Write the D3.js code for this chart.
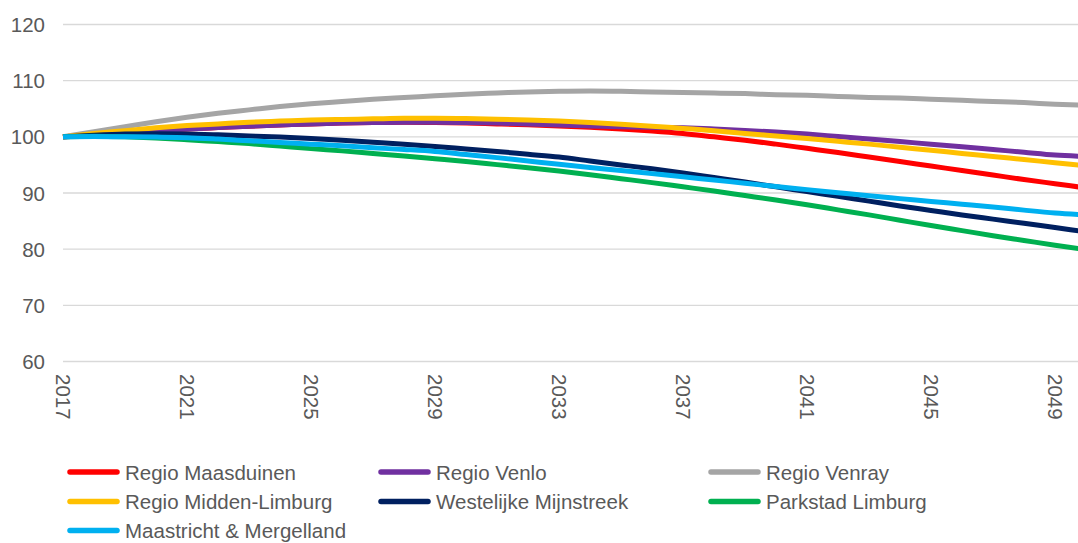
<!DOCTYPE html>
<html>
<head>
<meta charset="utf-8">
<script src="https://cdn.jsdelivr.net/npm/d3@7"></script>
<style>
  html, body { margin: 0; padding: 0; background: #fff; overflow: hidden; }
  svg { display: block; }
</style>
</head>
<body>
<svg id="chart" width="1078" height="543"></svg>
<script>
const years = d3.range(2017, 2051);
const xTickYears = [2017, 2021, 2025, 2029, 2033, 2037, 2041, 2045, 2049];
const yTicks = [60, 70, 80, 90, 100, 110, 120];

const seriesNames = ["Regio Maasduinen", "Regio Venlo", "Regio Venray", "Regio Midden-Limburg",
  "Westelijke Mijnstreek", "Parkstad Limburg", "Maastricht & Mergelland"];
const seriesColors = ["#FF0000", "#7030A0", "#A5A5A5", "#FFC000", "#002060", "#00B050", "#00B0F0"];

const maasduinen = [100.0, 100.4, 100.75, 101.1, 101.4, 101.65, 101.9, 102.1, 102.3, 102.45, 102.55, 102.6,
  102.55, 102.45, 102.3, 102.15, 101.95, 101.7, 101.4, 101.05, 100.6, 100.0, 99.4, 98.7, 97.95, 97.2, 96.4,
  95.6, 94.8, 94.0, 93.2, 92.4, 91.65, 90.9];
const venlo = [100.0, 100.4, 100.75, 101.1, 101.4, 101.65, 101.9, 102.1, 102.3, 102.45, 102.55, 102.6, 102.6,
  102.55, 102.45, 102.3, 102.1, 101.95, 101.8, 101.7, 101.6, 101.4, 101.15, 100.85, 100.5, 100.05, 99.6,
  99.15, 98.7, 98.25, 97.75, 97.25, 96.75, 96.5];
const venray = [100.0, 100.9, 101.8, 102.7, 103.5, 104.2, 104.8, 105.4, 105.9, 106.3, 106.7, 107.0, 107.3,
  107.6, 107.8, 108.0, 108.1, 108.15, 108.1, 108.0, 107.9, 107.8, 107.7, 107.5, 107.4, 107.2, 107.0, 106.9,
  106.7, 106.5, 106.3, 106.1, 105.8, 105.6];
const middenLimburg = [100.0, 100.6, 101.1, 101.6, 102.0, 102.3, 102.6, 102.8, 103.0, 103.1, 103.2, 103.3,
  103.3, 103.25, 103.15, 103.0, 102.8, 102.55, 102.25, 101.9, 101.5, 101.1, 100.6, 100.15, 99.7, 99.2, 98.7,
  98.15, 97.6, 97.05, 96.5, 95.95, 95.4, 94.85];
const westelijkeMijnstreek = [100.0, 100.3, 100.5, 100.55, 100.5, 100.35, 100.15, 99.95, 99.7, 99.4, 99.05,
  98.7, 98.3, 97.85, 97.4, 96.9, 96.4, 95.7, 95.0, 94.3, 93.55, 92.75, 91.95, 91.1, 90.25, 89.4, 88.55, 87.7,
  86.9, 86.1, 85.35, 84.6, 83.85, 83.1];
const parkstad = [100.0, 100.1, 100.0, 99.8, 99.5, 99.15, 98.8, 98.35, 97.9, 97.5, 97.05, 96.6, 96.1, 95.6,
  95.05, 94.5, 93.9, 93.25, 92.55, 91.85, 91.1, 90.35, 89.55, 88.75, 87.9, 87.0, 86.1, 85.15, 84.2, 83.3,
  82.4, 81.55, 80.7, 79.9];
const maastricht = [100.0, 100.05, 100.0, 99.95, 99.85, 99.6, 99.3, 99.0, 98.7, 98.4, 98.05, 97.75, 97.4,
  96.85, 96.3, 95.7, 95.1, 94.55, 94.0, 93.45, 92.9, 92.3, 91.75, 91.15, 90.6, 90.05, 89.5, 89.0, 88.5, 88.0,
  87.5, 86.95, 86.45, 86.1];

const seriesValues = [maasduinen, venlo, venray, middenLimburg, westelijkeMijnstreek, parkstad, maastricht];

const svg = d3.select("#chart");
const font = "'Liberation Sans', Arial, sans-serif";
const textColor = "#595959";

const x = d3.scaleLinear().domain([2017, 2050]).range([63, 1086]);
const y = d3.scaleLinear().domain([60, 120]).range([361.5, 24.5]);

// gridlines
svg.append("g").selectAll("line").data(yTicks).join("line")
  .attr("x1", x(2017)).attr("x2", x(2050))
  .attr("y1", d => y(d)).attr("y2", d => y(d))
  .attr("stroke", "#D9D9D9").attr("stroke-width", 1.4);

// y labels
svg.append("g").selectAll("text").data(yTicks).join("text")
  .attr("x", 45).attr("y", d => y(d))
  .attr("text-anchor", "end").attr("dominant-baseline", "central")
  .attr("font-family", font).attr("font-size", 20.5).attr("fill", textColor)
  .text(d => d);

// x labels (rotated)
svg.append("g").selectAll("text").data(xTickYears).join("text")
  .attr("transform", d => `translate(${x(d)},374) rotate(90)`)
  .attr("text-anchor", "start").attr("dominant-baseline", "central")
  .attr("font-family", font).attr("font-size", 20.5).attr("fill", textColor)
  .text(d => d);

// lines
const line = d3.line().x((d, i) => x(years[i])).y(d => y(d)).curve(d3.curveMonotoneX);
svg.append("g").selectAll("path").data(seriesValues).join("path")
  .attr("d", d => line(d))
  .attr("fill", "none")
  .attr("stroke", (d, i) => seriesColors[i])
  .attr("stroke-width", 5)
  .attr("stroke-linejoin", "round");

// legend
const legCols = [67, 378, 708];
const legRows = [472, 501.5, 530.5];
const legend = svg.append("g").selectAll("g").data(seriesNames).join("g")
  .attr("transform", (d, i) => `translate(${legCols[i % 3]},${legRows[Math.floor(i / 3)]})`);
legend.append("line")
  .attr("x1", 3).attr("x2", 50).attr("y1", 0).attr("y2", 0)
  .attr("stroke", (d, i) => seriesColors[i]).attr("stroke-width", 5.5).attr("stroke-linecap", "round");
legend.append("text")
  .attr("x", 58).attr("y", 0).attr("dominant-baseline", "central")
  .attr("font-family", font).attr("font-size", 20.5).attr("fill", textColor)
  .text(d => d);
</script>
</body>
</html>
